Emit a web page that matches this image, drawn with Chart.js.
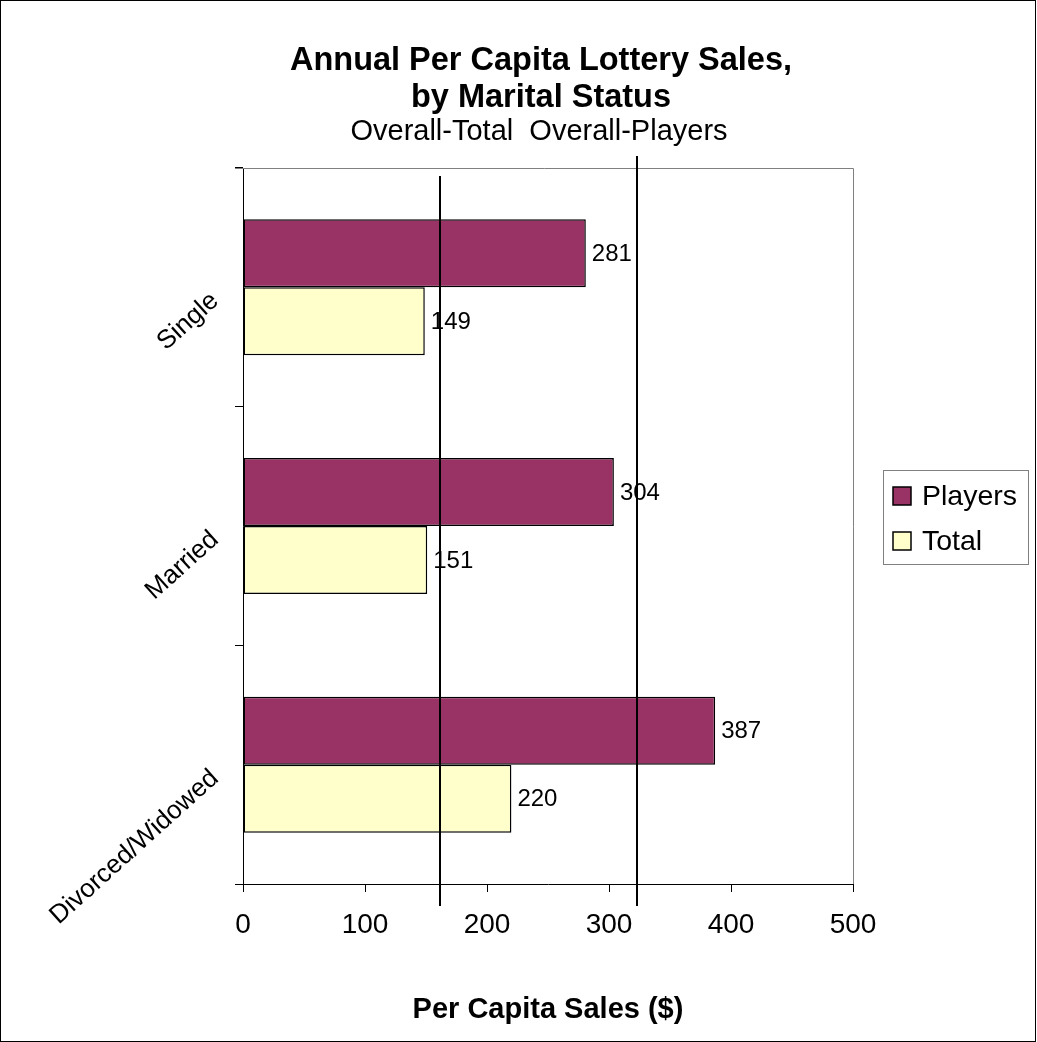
<!DOCTYPE html>
<html>
<head>
<meta charset="utf-8">
<script src="https://cdn.jsdelivr.net/npm/chart.js@4"></script>
<style>
  html, body { margin: 0; padding: 0; background: #fff; }
</style>
</head>
<body>
<canvas id="lotteryChart" width="1037" height="1042"></canvas>
<script>
const categories = ['Single', 'Married', 'Divorced/Widowed'];
const playersSales = [281, 304, 387];
const totalSales = [149, 151, 220];
const overallLabels = ['Overall-Total', 'Overall-Players'];
const overallValues = [161.5, 323];
const xTicks = [0, 100, 200, 300, 400, 500];
const titleLines = ['Annual Per Capita Lottery Sales,', 'by Marital Status'];

const FONT = '"Liberation Sans", Arial, sans-serif';

// title, reference lines, value labels, legend and frame
const extras = {
    id: 'extras',
    beforeDraw(chart) {
        const c = chart.ctx;
        c.save();
        c.fillStyle = '#fff';
        c.fillRect(0, 0, chart.width, chart.height);
        c.restore();
    },
    afterDatasetsDraw(chart) {
        const c = chart.ctx;
        const area = chart.chartArea;
        const x = chart.scales.x;
        c.save();

        // plot border (top / right) in grey
        c.strokeStyle = '#808080';
        c.lineWidth = 1;
        c.beginPath();
        c.moveTo(area.left - 8, area.top + 0.5);
        c.lineTo(area.right + 0.5, area.top + 0.5);
        c.lineTo(area.right + 0.5, area.bottom);
        c.stroke();

        // value labels
        c.fillStyle = '#000';
        c.font = '24px ' + FONT;
        c.textAlign = 'left';
        c.textBaseline = 'middle';
        chart.data.datasets.forEach((ds, i) => {
            chart.getDatasetMeta(i).data.forEach((bar, j) => {
                c.fillText(String(ds.data[j]), bar.x + 6, bar.y + 1);
            });
        });

        // overall reference lines
        const tops = [area.top + 8, area.top - 12];
        c.strokeStyle = '#000';
        c.lineWidth = 2;
        overallValues.forEach((v, i) => {
            const px = Math.round(x.getPixelForValue(v));
            c.beginPath();
            c.moveTo(px, tops[i]);
            c.lineTo(px, area.bottom + 22);
            c.stroke();
        });

        // title
        c.textAlign = 'center';
        c.font = 'bold 32.5px ' + FONT;
        c.fillText(titleLines[0], 541, 61);
        c.fillText(titleLines[1], 541, 98);

        // overall labels line
        c.font = '29px ' + FONT;
        c.fillText(overallLabels.join('  '), 539, 132);

        // legend
        const lx = 883, ly = 470, lw = 145, lh = 94;
        c.strokeStyle = '#808080';
        c.lineWidth = 1;
        c.strokeRect(lx + 0.5, ly + 0.5, lw, lh);
        c.textAlign = 'left';
        c.font = '28.5px ' + FONT;
        chart.data.datasets.forEach((ds, i) => {
            const cy = ly + 26 + i * 45;
            c.fillStyle = ds.backgroundColor;
            c.fillRect(893, cy - 9, 18, 18);
            c.strokeStyle = '#000';
            c.lineWidth = 1.5;
            c.strokeRect(893, cy - 9, 18, 18);
            c.fillStyle = '#000';
            c.fillText(ds.label, 922, cy + 1);
        });

        // outer frame
        c.strokeStyle = '#000';
        c.lineWidth = 1;
        c.strokeRect(0.5, 0.5, chart.width - 2, chart.height - 1);
        c.restore();
    }
};

new Chart(document.getElementById('lotteryChart'), {
    type: 'bar',
    data: {
        labels: categories,
        datasets: [{
            label: 'Players',
            data: playersSales,
            backgroundColor: '#993366',
            borderColor: '#000',
            borderWidth: 1.5,
            borderSkipped: false
        }, {
            label: 'Total',
            data: totalSales,
            backgroundColor: '#FFFFCC',
            borderColor: '#000',
            borderWidth: 1.5,
            borderSkipped: false
        }]
    },
    options: {
        indexAxis: 'y',
        responsive: false,
        animation: false,
        layout: { padding: { top: 168, right: 184, bottom: 0, left: 0 } },
        datasets: { bar: { categoryPercentage: 0.57, barPercentage: 1 } },
        plugins: {
            legend: { display: false },
            title: { display: false },
            tooltip: { enabled: false }
        },
        scales: {
            x: {
                min: 0,
                max: 500,
                afterBuildTicks: s => { s.ticks = xTicks.map(v => ({ value: v })); },
                afterFit: s => { s.height = 158; },
                ticks: { color: '#000', font: { size: 28, family: FONT }, padding: 16 },
                grid: { drawOnChartArea: false, tickLength: 8, color: '#000' },
                border: { color: '#000', width: 1 },
                title: {
                    display: true,
                    text: 'Per Capita Sales ($)',
                    color: '#000',
                    font: { size: 29, weight: 'bold', family: FONT },
                    padding: { top: 0, bottom: 15 }
                }
            },
            y: {
                afterFit: s => { s.width = 243; },
                ticks: {
                    color: '#000',
                    font: { size: 26, family: FONT },
                    minRotation: 42,
                    maxRotation: 42,
                    padding: 20,
                    labelOffset: 10
                },
                grid: { drawOnChartArea: false, tickLength: 8, color: '#000', offset: true },
                border: { color: '#000', width: 1 }
            }
        }
    },
    plugins: [extras]
});
</script>
</body>
</html>
